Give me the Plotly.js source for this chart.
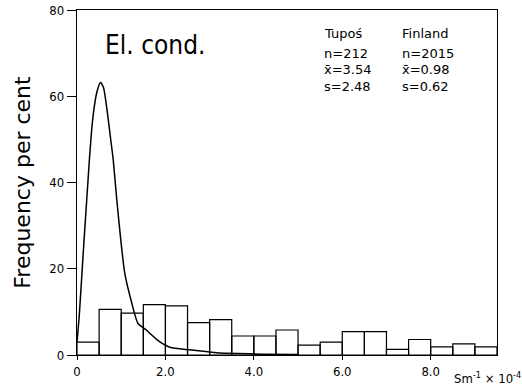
<!DOCTYPE html>
<html>
<head>
<meta charset="utf-8">
<script src="https://cdn.plot.ly/plotly-3.0.1.min.js"></script>
<style>html,body{margin:0;padding:0;background:#fff;}#chart{width:522px;height:385px;}</style>
</head>
<body>
<div id="chart"></div>
<script>
// Histogram (Tupoś): bin starts (x 10^-4 S/m) and frequency per cent
var binStarts = [0,0.5,1.0,1.5,2.0,2.5,3.0,3.5,4.0,4.5,5.0,5.5,6.0,6.5,7.0,7.5,8.0,8.5,9.0];
var tuposFreq = [3.0,10.6,9.7,11.7,11.4,7.5,8.2,4.4,4.4,5.8,2.3,3.0,5.4,5.4,1.3,3.6,1.9,2.6,1.9];

// Finland distribution curve
var curveX = [0.0,0.05,0.1,0.16,0.22,0.28,0.33,0.38,0.45,0.53,0.6,0.68,0.75,0.82,0.9,0.99,1.08,1.22,1.38,1.57,1.65,1.85,2.1,2.55,3.15,3.6,4.2,5.0];
var curveY = [3,9,17,26.7,36,45.2,52,56.8,61,63.2,62,56.8,51,45.2,36,26.7,19,12.8,7.3,5.8,5.0,3.2,1.8,1.2,0.55,0.35,0.2,0.1];

var xTickVals = [0,2,4,6,8];
var xTickText = ["0","2.0","4.0","6.0","8.0"];
var yTickVals = [0,20,40,60,80];

var groupNames = ["Tupoś","Finland"];
var groupN = ["212","2015"];
var groupMean = ["3.54","0.98"];
var groupS = ["2.48","0.62"];

var FONT = "DejaVu Sans Condensed, DejaVu Sans, sans-serif";
var FONT_W = "DejaVu Sans, sans-serif";

var traces = [
  {
    type: "bar",
    x: binStarts,
    y: tuposFreq,
    width: 0.5,
    offset: 0,
    marker: {color: "rgba(255,255,255,0)", line: {color: "#000", width: 1.2}},
    hoverinfo: "skip"
  },
  {
    type: "scatter",
    mode: "lines",
    x: curveX,
    y: curveY,
    line: {color: "#000", width: 1.5, shape: "spline", smoothing: 0.6},
    hoverinfo: "skip"
  }
];

var annotations = [
  {text: "El. cond.", x: 0.58, y: 72, xref: "x", yref: "y", xanchor: "left", yanchor: "middle", showarrow: false,
   font: {family: FONT, size: 26, color: "#000"}},
  {text: "Sm<sup>-1</sup> × 10<sup>-4</sup>", x: 8.48, xref: "x", y: -0.067, yref: "paper", xanchor: "left", yanchor: "middle", showarrow: false,
   font: {family: FONT, size: 13, color: "#000"}}
];
var colX = [5.55, 7.3];
var rowY = [74.6, 70.0, 66.1, 62.2];
for (var i = 0; i < groupNames.length; i++) {
  var lines = [groupNames[i], "n=" + groupN[i], "x\u0304=" + groupMean[i], "s=" + groupS[i]];
  for (var j = 0; j < lines.length; j++) {
    annotations.push({text: lines[j], x: colX[i], y: rowY[j], xref: "x", yref: "y", xanchor: "left", yanchor: "middle",
      showarrow: false, font: {family: FONT_W, size: 13, color: "#000"}});
  }
}

var layout = {
  width: 522, height: 385,
  margin: {l: 77, r: 25, t: 10, b: 30, pad: 0},
  paper_bgcolor: "#fff", plot_bgcolor: "#fff",
  showlegend: false,
  font: {family: FONT, color: "#000", size: 13},
  xaxis: {
    range: [0, 9.5], tickvals: xTickVals, ticktext: xTickText,
    showgrid: false, zeroline: false, showline: true, linecolor: "#000", linewidth: 1.2, mirror: true,
    ticks: "outside", ticklen: 4, tickcolor: "#000", tickfont: {family: FONT, size: 13, color: "#000"}
  },
  yaxis: {
    range: [0, 80], tickvals: yTickVals,
    showgrid: false, zeroline: false, showline: true, linecolor: "#000", linewidth: 1.2, mirror: true,
    ticks: "outside", ticklen: 9, tickcolor: "#000", tickfont: {family: FONT, size: 13, color: "#000"},
    title: {text: "Frequency per cent", font: {family: FONT_W, size: 22, color: "#000"}, standoff: 12}
  },
  annotations: annotations,
  bargap: 0
};

Plotly.newPlot("chart", traces, layout, {staticPlot: true, displayModeBar: false});
</script>
</body>
</html>
